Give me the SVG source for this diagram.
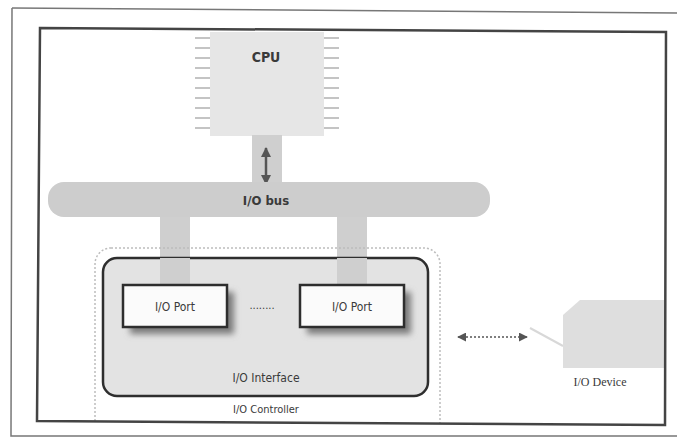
<svg xmlns="http://www.w3.org/2000/svg" width="677" height="438" viewBox="0 0 677 438">
<defs>
<style>
.lbl{font-family:"DejaVu Sans Condensed","Liberation Sans",sans-serif;fill:#3a3a3a;text-anchor:middle}
.pin{stroke:#c4c4c4;stroke-width:2}
.port{fill:#fbfbfb;stroke:#2e2e2e;stroke-width:2.5}
.drop{fill:#cfcfcf}
</style>
<filter id="blur" x="-20%" y="-20%" width="140%" height="140%"><feGaussianBlur stdDeviation="3"/></filter>
<clipPath id="frameclip"><polygon points="40,28 666,32 665,425 37,421"/></clipPath>
<marker id="ah" viewBox="0 0 10 10" refX="9" refY="5" markerWidth="4" markerHeight="4" orient="auto-start-reverse"><path d="M0,0 L10,5 L0,10 z" fill="#555"/></marker>
<marker id="ah2" viewBox="0 0 10 10" refX="9" refY="5" markerWidth="6" markerHeight="6" orient="auto-start-reverse"><path d="M0,0 L10,5 L0,10 z" fill="#555"/></marker>
</defs>
<rect width="677" height="438" fill="#ffffff"/>
<g id="page" fill="none" stroke="#777" stroke-width="1.5">
<path d="M12,8 L677,13"/>
<path d="M12,8 L11,436 L677,436"/>
</g>
<g id="cpu">
<rect x="210" y="32" width="114" height="104" fill="#e6e6e6"/>
<g class="pin">
<path d="M195,38h15M195,48h15M195,58h15M195,68h15M195,78h15M195,88h15M195,98h15M195,108h15M195,118h15M195,128h15"/>
<path d="M324,38h15M324,48h15M324,58h15M324,68h15M324,78h15M324,88h15M324,98h15M324,108h15M324,118h15M324,128h15"/>
</g>
<text class="lbl" x="266" y="62" font-size="14" font-weight="bold" fill="#555">CPU</text>
</g>
<g id="connectors">
<rect class="drop" x="252" y="135" width="30" height="50"/>
<rect class="drop" x="160" y="214" width="30" height="74"/>
<rect class="drop" x="337" y="214" width="30" height="74"/>
<line x1="266" y1="148" x2="266" y2="184" stroke="#555" stroke-width="2.5" marker-start="url(#ah)" marker-end="url(#ah)"/>
<line x1="458" y1="337" x2="527" y2="337" stroke="#555" stroke-width="1.5" stroke-dasharray="2,2" marker-start="url(#ah2)" marker-end="url(#ah2)"/>
<line x1="530" y1="328" x2="563" y2="346" stroke="#d8d8d8" stroke-width="2"/>
</g>
<g id="bus">
<rect x="48" y="182" width="442" height="35" rx="16" fill="#cdcdcd"/>
<text class="lbl" x="266" y="205" font-size="13" font-weight="bold">I/O bus</text>
</g>
<g id="controller" clip-path="url(#frameclip)">
<rect x="95" y="248" width="345" height="190" rx="16" fill="none" stroke="#bdbdbd" stroke-width="1.5" stroke-dasharray="2,2"/>
<text class="lbl" x="266" y="413" font-size="11">I/O Controller</text>
</g>
<g id="interface">
<rect x="103" y="258" width="325" height="138" rx="14" fill="#e3e3e3" stroke="#2e2e2e" stroke-width="2.5"/>
<rect class="drop" x="160" y="258" width="30" height="28"/>
<rect class="drop" x="337" y="258" width="30" height="28"/>
<text class="lbl" x="266" y="382" font-size="12">I/O Interface</text>
</g>
<g id="port1">
<rect x="130" y="292" width="104" height="42" fill="#7a7a7a" filter="url(#blur)"/>
<rect class="port" x="123" y="285" width="104" height="42"/>
<text class="lbl" x="175" y="311" font-size="12">I/O Port</text>
</g>
<text class="lbl" x="262" y="309" font-size="11">........</text>
<g id="port2">
<rect x="307" y="292" width="104" height="42" fill="#7a7a7a" filter="url(#blur)"/>
<rect class="port" x="300" y="285" width="104" height="42"/>
<text class="lbl" x="352" y="311" font-size="12">I/O Port</text>
</g>
<g id="device">
<polygon points="580,300 665,300 665,368 563,368 563,315" fill="#dedede"/>
<text x="600" y="386" font-family="Liberation Serif,serif" font-size="12" fill="#3a3a3a" text-anchor="middle">I/O Device</text>
</g>
<polygon id="frame" points="40,28 666,32 665,425 37,421" fill="none" stroke="#444" stroke-width="2.5"/>
</svg>
